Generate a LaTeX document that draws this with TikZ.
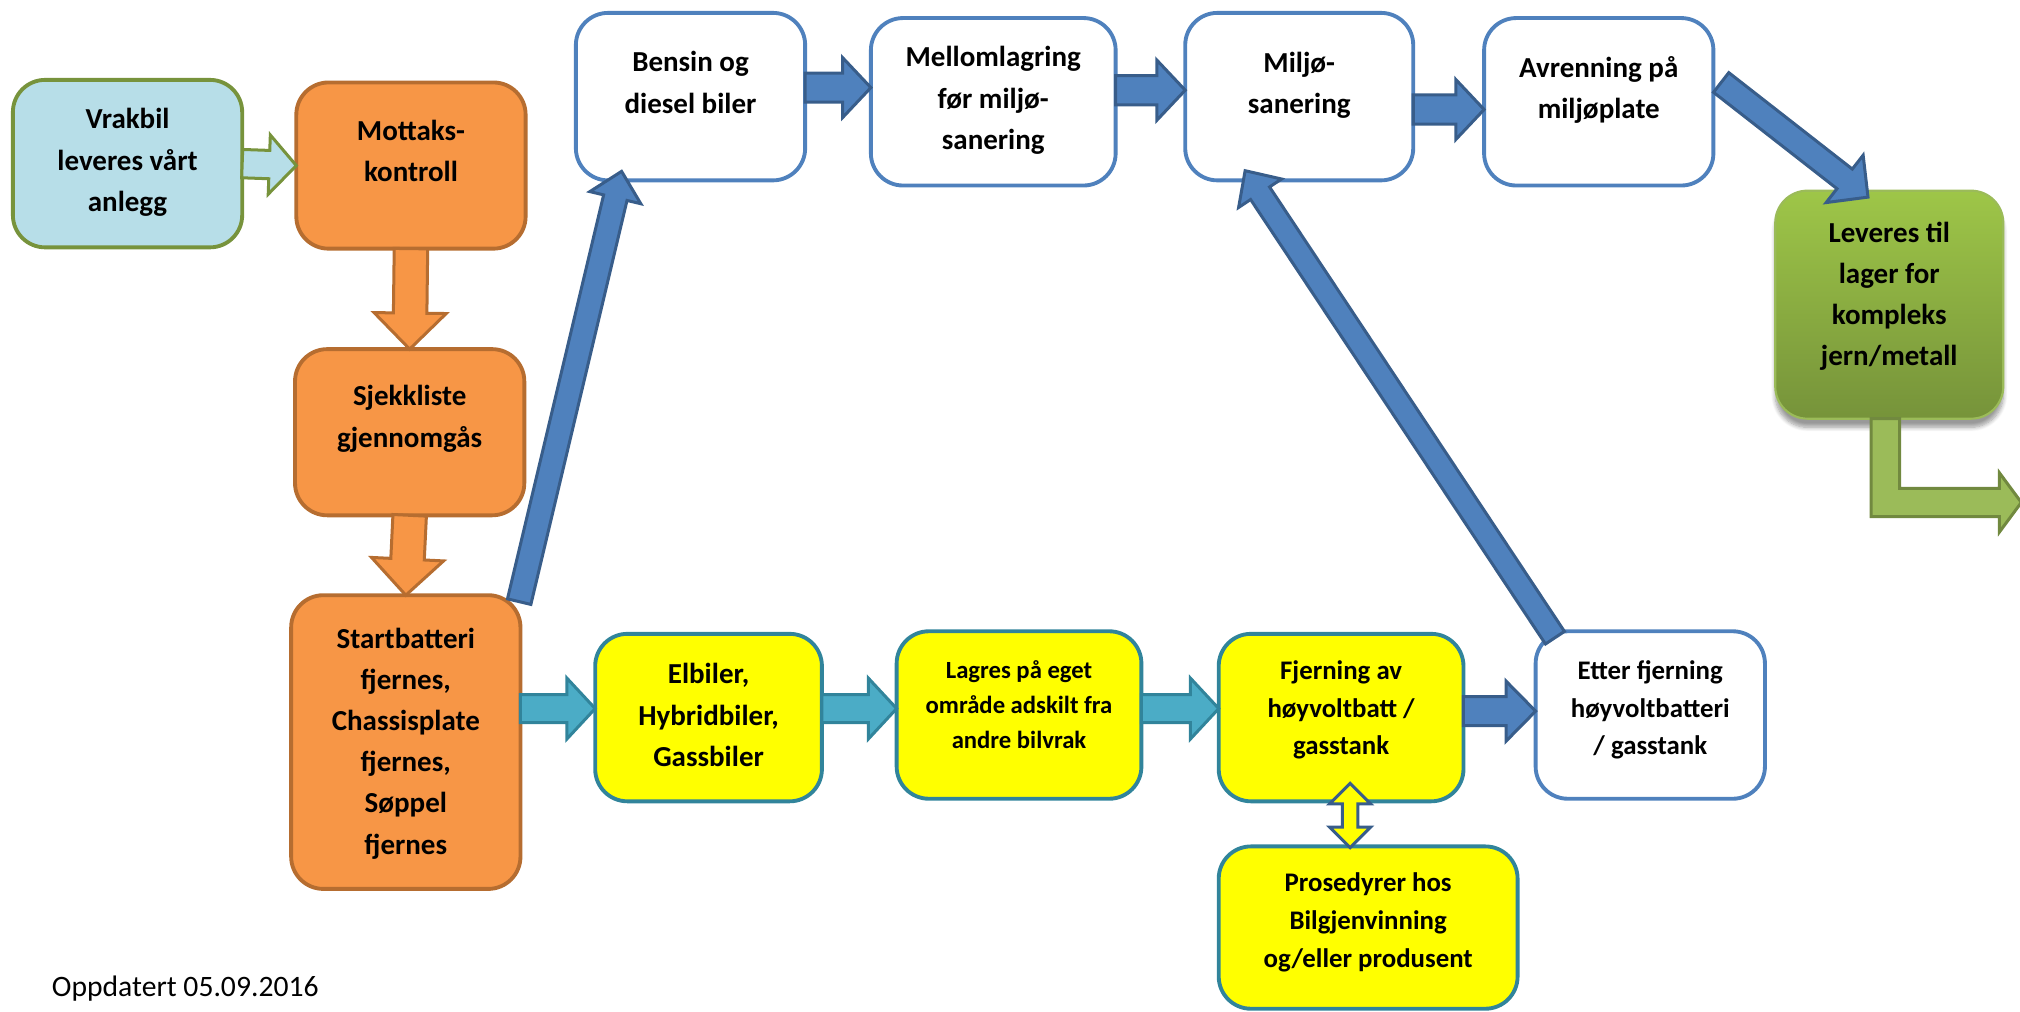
\documentclass[tikz,border=0pt]{standalone}
\usepackage{fontspec}
\setmainfont{Carlito}
\usetikzlibrary{calc,shadows.blur}
\definecolor{vrakfill}{HTML}{B7DEE8}
\definecolor{vrakdraw}{HTML}{77933C}
\definecolor{orfill}{HTML}{F79646}
\definecolor{ordraw}{HTML}{B66D30}
\definecolor{blueline}{HTML}{4F81BD}
\definecolor{bluedark}{HTML}{385D8A}
\definecolor{tealfill}{HTML}{4BACC6}
\definecolor{tealdraw}{HTML}{31849B}
\definecolor{yelfill}{HTML}{FFFF00}
\definecolor{grfill}{HTML}{9BBB59}
\definecolor{grdraw}{HTML}{71893F}
\definecolor{levtop}{RGB}{158,198,72}
\definecolor{levbot}{RGB}{118,147,58}
\newcommand{\blkarrow}[6]{%
  \coordinate (bkH) at ($(#3)!#6!(#2)$);
  \draw[#1] ($(#2)!#4!90:(#3)$) -- ($(bkH)!#4!90:(#3)$) -- ($(bkH)!#5!90:(#3)$) -- (#3)
    -- ($(bkH)!#5!-90:(#3)$) -- ($(bkH)!#4!-90:(#3)$) -- ($(#2)!#4!-90:(#3)$) -- cycle;
}
\begin{document}
\begin{tikzpicture}[x=0.6pt,y=-0.6pt,
  box/.style={rounded corners=15pt, line width=1.8pt, inner sep=0pt, outer sep=0pt},
  orbox/.style={box, fill=orfill, draw=ordraw},
  wbox/.style={box, fill=white, draw=blueline},
  ybox/.style={box, fill=yelfill, draw=tealdraw},
  txt/.style={align=center, inner sep=0pt, font=\bfseries\fontsize{13.5}{19.2}\selectfont},
  txtsm/.style={align=center, inner sep=0pt, font=\bfseries\fontsize{12.5}{17.6}\selectfont},
  txtxs/.style={align=center, inner sep=0pt, font=\bfseries\fontsize{11.5}{16.2}\selectfont},
  bluearr/.style={fill=blueline, draw=bluedark, line width=1.4pt},
  tealarr/.style={fill=tealfill, draw=tealdraw, line width=1.4pt},
  orarr/.style={fill=orfill, draw=ordraw, line width=1.4pt},
]
\useasboundingbox (0,0) rectangle (1568,785);

% boxes
\node[box, fill=vrakfill, draw=vrakdraw, minimum width=106.8pt, minimum height=78pt] (vrak) at (99,127) {};
\node[txt] (vrakt) at (99,126) {Vrakbil\\leveres vårt\\anlegg};
\node[orbox, minimum width=106.8pt, minimum height=77.4pt] (mottak) at (319,128.5) {};
\node[txt] (mottakt) at (319,117) {Mottaks-\\kontroll};
\node[orbox, minimum width=106.8pt, minimum height=77.4pt] (sjekk) at (318,335.5) {};
\node[txt] (sjekkt) at (318,325) {Sjekkliste\\gjennomgås};
\node[orbox, minimum width=106.8pt, minimum height=136.8pt] (start) at (315,576) {};
\node[txt] (startt) at (315,577) {Startbatteri\\fjernes,\\Chassisplate\\fjernes,\\Søppel\\fjernes};

\node[wbox, minimum width=106.8pt, minimum height=78pt] (bensin) at (536,75) {};
\node[txt] (bensint) at (536,64) {Bensin og\\diesel biler};
\node[wbox, minimum width=114pt, minimum height=78pt] (mellom) at (771,79) {};
\node[txt] (mellomt) at (771,78) {Mellomlagring\\før miljø-\\sanering};
\node[wbox, minimum width=106.2pt, minimum height=78pt] (miljo) at (1008.5,75) {};
\node[txt] (miljot) at (1008.5,66) {Miljø-\\sanering};
\node[wbox, minimum width=106.8pt, minimum height=78pt] (avren) at (1241,79) {};
\node[txt] (avrent) at (1241,70) {Avrenning på\\miljøplate};

\node[box, line width=1pt, draw=grfill, top color=levtop, bottom color=levbot,
  blur shadow={shadow xshift=0pt, shadow yshift=-4pt, shadow blur steps=8, shadow opacity=40},
  minimum width=106.2pt, minimum height=106.2pt] (lever) at (1466.5,236.5) {};
\node[txt] (levert) at (1466.5,230) {Leveres til\\lager for\\kompleks\\jern/metall};

\node[ybox, minimum width=105.6pt, minimum height=78pt] (elbil) at (550,557) {};
\node[txt] (elbilt) at (550,555) {Elbiler,\\Hybridbiler,\\Gassbiler};
\node[ybox, minimum width=114pt, minimum height=78pt] (lagres) at (791,555) {};
\node[txtxs] (lagrest) at (791,547) {Lagres på eget\\område adskilt fra\\andre bilvrak};
\node[ybox, minimum width=114pt, minimum height=78pt] (fjern) at (1041,557) {};
\node[txtsm] (fjernt) at (1041,551) {Fjerning av\\høyvoltbatt /\\gasstank};
\node[wbox, minimum width=106.8pt, minimum height=78pt] (etter) at (1281,555) {};
\node[txtsm] (ettert) at (1281,551) {Etter fjerning\\høyvoltbatteri\\/ gasstank};
\node[ybox, minimum width=139.2pt, minimum height=75.6pt] (prosed) at (1062,720) {};
\node[txtsm] (prosedt) at (1062,716) {Prosedyrer hos\\Bilgjenvinning\\og/eller produsent};

\node[anchor=west, inner sep=0pt, font=\fontsize{13.8}{16}\selectfont] (oppd) at (40,767) {Oppdatert 05.09.2016};

% connector coordinates
\coordinate (a4t) at ($(start.north east)+(-1,5)$);
\coordinate (a4h) at ($(bensin.south west)+(35.5,-7)$);
\coordinate (a5t) at ($(bensin.east)+(0,-7)$);
\coordinate (a5h) at ($(mellom.west)+(0,-11)$);
\coordinate (a6t) at ($(mellom.east)+(0,-9)$);
\coordinate (a6h) at ($(miljo.west)+(0,-5)$);
\coordinate (a7t) at ($(miljo.east)+(0,10)$);
\coordinate (a7h) at ($(avren.west)+(0,6)$);
\coordinate (a8t) at ($(avren.east)+(6,-15)$);
\coordinate (a8h) at ($(lever.north)+(-16.5,5)$);
\coordinate (a9t) at ($(etter.north west)+(15,5)$);
\coordinate (a9h) at ($(miljo.south)+(-42,-7.5)$);
\coordinate (a10t) at ($(start.east)+(0,-26)$);
\coordinate (a10h) at ($(elbil.west)+(0,-7)$);
\coordinate (a11t) at ($(elbil.east)+(0,-7)$);
\coordinate (a11h) at ($(lagres.west)+(0,-5)$);
\coordinate (a12t) at ($(lagres.east)+(0,-5)$);
\coordinate (a12h) at ($(fjern.west)+(0,-7)$);
\coordinate (a13t) at ($(fjern.east)+(0,-5)$);
\coordinate (a13h) at ($(etter.west)+(0,-3)$);

% arrows
\blkarrow{fill=vrakfill, draw=vrakdraw, line width=1.4pt}{vrak.east}{mottak.west}{6.6pt}{13.8pt}{12.6pt}
\blkarrow{orarr}{mottak.south}{sjekk.north}{7.8pt}{16.8pt}{16.8pt}
\blkarrow{orarr}{sjekk.south}{start.north}{7.8pt}{16.8pt}{16.8pt}
\blkarrow{bluearr}{a4t}{a4h}{5.6pt}{12.2pt}{12.6pt}
\blkarrow{bluearr}{a5t}{a5h}{6.8pt}{14pt}{13.2pt}
\blkarrow{bluearr}{a6t}{a6h}{6.8pt}{14pt}{13.2pt}
\blkarrow{bluearr}{a7t}{a7h}{6.8pt}{14pt}{13.2pt}
\blkarrow{bluearr}{a8t}{a8h}{5.8pt}{14pt}{13.8pt}
\blkarrow{bluearr}{a9t}{a9h}{5.3pt}{12pt}{12.6pt}
\blkarrow{tealarr}{a10t}{a10h}{6.5pt}{14.2pt}{13.2pt}
\blkarrow{tealarr}{a11t}{a11h}{6.5pt}{14.2pt}{13.2pt}
\blkarrow{tealarr}{a12t}{a12h}{6.5pt}{14.2pt}{13.2pt}
\blkarrow{bluearr}{a13t}{a13h}{6.8pt}{14pt}{13.8pt}

% double arrow
\coordinate (dtop) at ($(fjern.south)+(7,-14)$);
\coordinate (dbot) at ($(prosed.north)+(-14,1)$);
\draw[fill=yelfill, draw=bluedark, line width=1.4pt]
  (dtop) -- ($(dtop)+(16,16)$) -- ($(dtop)+(6,16)$) -- ($(dbot)+(6,-16)$) -- ($(dbot)+(16,-16)$)
  -- (dbot) -- ($(dbot)+(-16,-16)$) -- ($(dbot)+(-6,-16)$) -- ($(dtop)+(-6,16)$) -- ($(dtop)+(-16,16)$) -- cycle;

% bent green arrow leaving the picture
\coordinate (gend) at (1569,390);
\draw[fill=grfill, draw=grdraw, line width=1.4pt]
  ($(lever.south)+(-14,0)$) |- ($(gend)+(-17,11)$) -- ($(gend)+(-17,23)$)
  -- (gend) -- ($(gend)+(-17,-23)$) -- ($(gend)+(-17,-11)$) -| ($(lever.south)+(8,0)$) -- cycle;
\end{tikzpicture}
\end{document}
